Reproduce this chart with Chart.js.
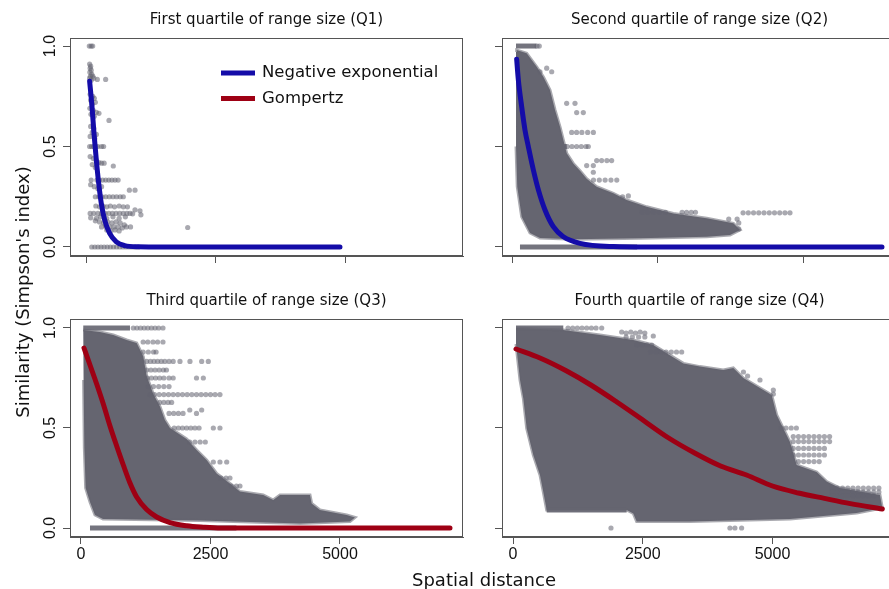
<!DOCTYPE html>
<html><head><meta charset="utf-8">
<script src="https://cdn.jsdelivr.net/npm/chart.js@4.4.0/dist/chart.umd.min.js"></script>
<style>
html,body{margin:0;padding:0;background:#fff;}
body{width:889px;height:589px;position:relative;overflow:hidden;}
canvas{position:absolute;}
.lab{position:absolute;font-family:'DejaVu Sans';font-size:18px;line-height:20px;text-align:center;white-space:nowrap;color:#111;}
</style></head><body>
<canvas id="c1" width="470" height="280" style="left:0px;top:0px"></canvas>
<canvas id="c2" width="435" height="280" style="left:470px;top:0px"></canvas>
<canvas id="c3" width="470" height="309" style="left:0px;top:280px"></canvas>
<canvas id="c4" width="435" height="309" style="left:470px;top:280px"></canvas>
<div class="lab" style="left:-127px;top:282px;width:300px;transform:rotate(-90deg)">Similarity (Simpson's index)</div>
<div class="lab" style="left:334px;top:570px;width:300px">Spatial distance</div>
<script>
// ---------------- data ----------------
const panelTitles = ['First quartile of range size (Q1)', 'Second quartile of range size (Q2)',
                     'Third quartile of range size (Q3)', 'Fourth quartile of range size (Q4)'];
const xTicks = [0, 2500, 5000];
const xTickLabels = ['0', '2500', '5000'];
const yTicks = [0, 0.5, 1];
const yTickLabels = ['0.0', '0.5', '1.0'];
const legendLabels = ['Negative exponential', 'Gompertz'];

// fitted curves
const q1CurveX = [70, 116, 154, 199, 245, 295, 361, 457, 585, 747, 1004, 1500, 3000, 4903];
const q1CurveY = [0.825, 0.698, 0.566, 0.433, 0.317, 0.217, 0.134, 0.068, 0.026, 0.007, 0.001, 0, 0, 0];
const q2CurveX = [80, 109, 166, 223, 281, 367, 453, 567, 710, 882, 1168, 1741, 2300, 6357];
const q2CurveY = [0.934, 0.831, 0.698, 0.582, 0.499, 0.383, 0.284, 0.184, 0.101, 0.051, 0.018, 0.002, 0, 0];
const q3CurveX = [58, 174, 303, 431, 560, 689, 817, 946, 1075, 1268, 1461, 1718, 2040, 2361, 2700, 7124];
const q3CurveY = [0.90, 0.815, 0.72, 0.62, 0.51, 0.41, 0.315, 0.225, 0.155, 0.092, 0.055, 0.027, 0.011, 0.004, 0, 0];
const q4CurveX = [58, 520, 1034, 1500, 2000, 2447, 3000, 3500, 4000, 4500, 5000, 5500, 6000, 6500, 7116];
const q4CurveY = [0.895, 0.85, 0.785, 0.715, 0.63, 0.55, 0.45, 0.375, 0.31, 0.265, 0.21, 0.175, 0.148, 0.122, 0.095];

// outlines of the dense point clouds
const q2Cloud = [[69,0.97],[80,0.98],[252,0.964],[424,0.897],[538,0.847],[653,0.781],[739,0.682],[825,0.598],[882,0.532],[940,0.466],[1053,0.416],[1168,0.38],[1283,0.34],[1455,0.30],[1741,0.267],[1971,0.234],[2314,0.20],[2772,0.167],[3345,0.143],[3803,0.118],[3918,0.085],[3746,0.06],[3345,0.051],[2199,0.043],[1053,0.038],[481,0.045],[309,0.07],[166,0.15],[90,0.3],[69,0.5]];
const q3Cloud = [[44,0.99],[367,0.98],[624,0.965],[882,0.94],[1075,0.925],[1203,0.857],[1268,0.76],[1396,0.67],[1525,0.607],[1620,0.54],[1718,0.5],[2040,0.445],[2233,0.39],[2426,0.34],[2619,0.273],[2876,0.223],[3069,0.182],[3519,0.165],[3712,0.14],[3842,0.165],[4421,0.165],[4453,0.123],[4614,0.09],[5129,0.065],[5290,0.053],[5193,0.032],[4228,0.023],[2297,0.037],[425,0.045],[270,0.065],[174,0.13],[90,0.2],[65,0.4],[50,0.74]];
const q4Cloud = [[58,1.0],[969,0.99],[1676,0.965],[2318,0.94],[2700,0.915],[3283,0.823],[3603,0.807],[4052,0.79],[4245,0.8],[4438,0.75],[4759,0.70],[4984,0.665],[5081,0.565],[5203,0.5],[5337,0.43],[5466,0.315],[5851,0.28],[6044,0.232],[6300,0.2],[7071,0.165],[7116,0.1],[6622,0.075],[5337,0.045],[3410,0.032],[2383,0.032],[2318,0.073],[2190,0.09],[649,0.09],[584,0.18],[520,0.265],[391,0.365],[264,0.498],[199,0.648],[135,0.74],[58,0.92]];

// dense rows of points (drawn as bands)
const q2Bands = [[[69,1],[420,1]], [[137,0],[2150,0]], [[86,0.5],[940,0.5]]];
const q3Bands = [[[44,1],[946,1]], [[174,0],[3000,0]]];
const q4Bands = [[[58,1],[969,1]], [[649,0.09],[2190,0.09]]];

// scattered individual points
const q1Points = [[64,1],[100,1],[129,1],
 [70,0.91],[90,0.9],[80,0.89],[100,0.88],[75,0.87],[110,0.86],[85,0.85],[130,0.85],[70,0.84],[150,0.84],[100,0.83],[218,0.834],[379,0.834],
 [80,0.76],[130,0.75],[160,0.74],[90,0.73],[180,0.72],[120,0.71],
 [75,0.69],[140,0.68],[200,0.67],[95,0.66],[160,0.65],[250,0.665],[444,0.63],
 [90,0.6],[150,0.59],[120,0.57],[200,0.56],[80,0.55],[170,0.54],
 [70,0.5],[110,0.5],[150,0.5],[190,0.5],[230,0.5],[300,0.5],[340,0.5],
 [80,0.45],[140,0.44],[200,0.43],[250,0.42],[300,0.417],[350,0.417],[120,0.41],[527,0.403],[180,0.395],
 [100,0.333],[210,0.333],[260,0.333],[320,0.333],[380,0.333],[440,0.333],[500,0.333],[560,0.333],[620,0.333],
 [90,0.31],[160,0.3],[230,0.29],[837,0.283],[946,0.283],[300,0.3],
 [180,0.25],[250,0.25],[310,0.25],[380,0.25],[450,0.25],[520,0.25],[590,0.25],[660,0.25],[720,0.25],
 [190,0.204],[260,0.2],[330,0.204],[400,0.2],[470,0.204],[550,0.2],[640,0.204],[720,0.2],[800,0.2],[946,0.185],[1042,0.18],[900,0.165],[1060,0.16],
 [80,0.167],[150,0.167],[230,0.167],[300,0.167],[370,0.167],[440,0.167],[510,0.167],[580,0.167],[650,0.167],[720,0.167],[790,0.167],[850,0.167],
 [90,0.145],[200,0.143],[280,0.15],[400,0.143],[520,0.15],[640,0.143],[760,0.15],
 [180,0.13],[260,0.125],[340,0.12],[420,0.125],[500,0.12],[580,0.125],[660,0.12],[740,0.11],
 [300,0.1],[380,0.105],[460,0.1],[540,0.1],[620,0.1],[700,0.095],[780,0.1],[860,0.1],[1963,0.097],
 [400,0.085],[480,0.08],[560,0.085],[640,0.08],
 [110,0],[170,0],[230,0],[290,0],[350,0],[410,0],[470,0],[530,0],[590,0],[650,0],[710,0],[770,0],[830,0],[890,0],[950,0],[1010,0]];
const q2Points = [[430,1],[469,1],
 [481,0.872],[596,0.89],[682,0.872],[939,0.715],[1082,0.715],[1111,0.669],[1225,0.669],
 [1025,0.57],[1110,0.57],[1200,0.57],[1300,0.57],[1398,0.57],
 [950,0.5],[1030,0.5],[1110,0.5],[1190,0.5],[1270,0.5],[1311,0.5],
 [1455,0.43],[1540,0.43],[1630,0.43],[1712,0.43],[1283,0.405],[1397,0.405],[1397,0.372],
 [1400,0.333],[1500,0.333],[1600,0.333],[1700,0.333],[1800,0.333],
 [1999,0.254],[1900,0.25],
 [2236,0.173],[2330,0.173],[2430,0.173],[2530,0.173],[2637,0.173],[2923,0.173],[3000,0.173],[3080,0.173],[3152,0.173],
 [3724,0.139],[3868,0.139],
 [3970,0.17],[4060,0.17],[4150,0.17],[4240,0.17],[4330,0.17],[4420,0.17],[4510,0.17],[4600,0.17],[4690,0.17],[4776,0.17],
 [3896,0.12],[3896,0.09]];
const q3Points = [[1010,1],[1080,1],[1150,1],[1220,1],[1290,1],[1360,1],[1430,1],[1500,1],[1583,1],
 [1200,0.93],[1290,0.93],[1390,0.93],[1480,0.93],[1583,0.93],
 [1200,0.88],[1300,0.88],[1400,0.88],[1450,0.88],
 [1268,0.833],[1340,0.833],[1410,0.833],[1480,0.833],[1550,0.833],[1620,0.833],[1700,0.833],[1780,0.833],[1911,0.833],[2104,0.833],[2330,0.833],[2458,0.833],
 [1270,0.79],[1350,0.79],[1430,0.79],[1510,0.79],[1590,0.79],[1650,0.79],
 [1280,0.75],[1360,0.75],[1440,0.75],[1520,0.75],[1600,0.75],[1700,0.75],[1780,0.75],[2230,0.75],[2362,0.75],
 [1300,0.707],[1400,0.707],[1500,0.707],[1600,0.707],[1700,0.707],
 [1333,0.667],[1420,0.667],[1510,0.667],[1600,0.667],[1690,0.667],[1780,0.667],[1870,0.667],[1960,0.667],[2050,0.667],[2140,0.667],[2230,0.667],[2320,0.667],[2410,0.667],[2500,0.667],[2590,0.667],[2683,0.667],
 [1520,0.628],[1600,0.628],[1680,0.628],[1750,0.628],
 [1700,0.573],[1790,0.573],[1880,0.573],[1970,0.573],[2100,0.59],[2230,0.573],[2330,0.59],
 [1800,0.5],[1880,0.5],[1960,0.5],[2040,0.5],[2120,0.5],[2200,0.5],[2280,0.5],[2555,0.5],[2683,0.5],
 [2100,0.43],[2200,0.43],[2300,0.43],[2400,0.43],
 [2555,0.33],[2683,0.33],[2813,0.33],
 [2700,0.25],[2800,0.25],[2876,0.25],
 [2900,0.21],[3000,0.21],[3069,0.21]];
const q4Points = [[1060,1],[1150,1],[1240,1],[1330,1],[1420,1],[1510,1],[1600,1],[1709,1],
 [2094,0.98],[2180,0.975],[2270,0.98],[2360,0.975],[2450,0.98],[2540,0.975],[2703,0.96],[2180,0.955],[2300,0.955],[2420,0.955],[2540,0.955],
 [2383,0.915],[2480,0.915],[2580,0.915],[2672,0.915],
 [2650,0.88],[2750,0.88],[2850,0.88],[2950,0.88],[3050,0.88],[3150,0.88],[3250,0.88],
 [4440,0.78],[4520,0.76],[4759,0.74],[5016,0.69],[5016,0.67],
 [5170,0.5],[5260,0.5],[5360,0.5],[5460,0.5],
 [5400,0.457],[5500,0.457],[5600,0.457],[5700,0.457],[5800,0.457],[5900,0.457],[6000,0.457],[6100,0.457],
 [5400,0.432],[5500,0.432],[5600,0.432],[5700,0.432],[5800,0.432],[5900,0.432],[6000,0.432],[6100,0.432],
 [5400,0.398],[5500,0.398],[5600,0.398],[5700,0.398],[5800,0.398],[5900,0.398],[6000,0.398],
 [5400,0.365],[5500,0.365],[5600,0.365],[5700,0.365],[5800,0.365],[5900,0.365],[6000,0.365],
 [5500,0.332],[5600,0.332],[5700,0.332],[5800,0.332],[5900,0.332],
 [6150,0.2],[6250,0.2],[6350,0.2],[6450,0.2],[6550,0.2],[6650,0.2],[6750,0.2],[6850,0.2],[6950,0.2],[7050,0.2],
 [6150,0.18],[6250,0.18],[6350,0.18],[6450,0.18],[6550,0.18],[6650,0.18],[6750,0.18],[6850,0.18],[6950,0.18],[7050,0.18],
 [6150,0.16],[6250,0.16],[6350,0.16],[6450,0.16],[6550,0.16],[6650,0.16],[6750,0.16],[6850,0.16],[6950,0.16],
 [1888,0],[4180,0],[4276,0],[4405,0]];

// ---------------- drawing ----------------
const BLUE = 'rgb(20,12,168)';
const RED = 'rgb(158,0,20)';
const CLOUD = 'rgb(101,101,112)';
const AXIS = '#555';
Chart.defaults.color = '#111';
Chart.defaults.font.family = "'Liberation Sans', Arial, sans-serif";

const toXY = (xs, ys) => xs.map((x, i) => ({x: x, y: ys[i]}));
const pairs = arr => arr.map(p => ({x: p[0], y: p[1]}));

const boxPlugin = {
  id: 'box',
  afterDraw(chart) {
    const a = chart.chartArea, ctx = chart.ctx;
    ctx.save();
    ctx.strokeStyle = AXIS; ctx.lineWidth = 1;
    ctx.strokeRect(a.left + 0.5, a.top + 0.5, a.right - a.left - 1, a.bottom - a.top - 1);
    ctx.restore();
  }
};
const legendPlugin = {
  id: 'q1legend',
  afterDraw(chart) {
    if (!chart.options.plugins.q1legend || !chart.options.plugins.q1legend.show) return;
    const a = chart.chartArea, ctx = chart.ctx;
    const cols = [BLUE, RED];
    ctx.save();
    ctx.font = "16.5px 'DejaVu Sans'";
    ctx.textBaseline = 'middle';
    ctx.fillStyle = '#111';
    legendLabels.forEach((t, i) => {
      const y = a.top + 35 + i * 25.5;
      ctx.strokeStyle = cols[i]; ctx.lineWidth = 5; ctx.lineCap = 'butt';
      ctx.beginPath(); ctx.moveTo(a.left + 151, y); ctx.lineTo(a.left + 185, y); ctx.stroke();
      ctx.fillText(t, a.left + 192, y);
    });
    ctx.restore();
  }
};

function panel(id, p) {
  const datasets = [];
  datasets.push({type: 'line', data: toXY(p.curveX, p.curveY), borderColor: p.color, borderWidth: 5,
    pointRadius: 0, cubicInterpolationMode: 'monotone', fill: false, borderCapStyle: 'round', order: 0});
  datasets.push({type: 'scatter', data: pairs(p.points), pointRadius: 2.6, pointBorderWidth: 0,
    backgroundColor: 'rgba(98,98,112,0.55)', borderColor: 'rgba(0,0,0,0)', order: 1});
  (p.bands || []).forEach(b => datasets.push({type: 'line', data: pairs(b), borderColor: 'rgba(101,101,112,0.9)',
    borderWidth: 5, pointRadius: 0, fill: false, order: 2}));
  if (p.cloud) datasets.push({type: 'line', data: pairs(p.cloud), borderColor: 'rgba(101,101,112,0.55)',
    borderWidth: 3, backgroundColor: CLOUD, fill: 'shape', pointRadius: 0, tension: 0, order: 3});

  new Chart(document.getElementById(id), {
    type: 'scatter',
    data: {datasets},
    options: {
      responsive: false, animation: false, events: [],
      layout: {padding: {left: 0, right: p.padRight, top: 0, bottom: 0}},
      plugins: {
        legend: {display: false}, tooltip: {enabled: false},
        title: {display: true, text: p.title, fullSize: false, color: '#111',
          font: {family: "'DejaVu Sans'", size: 15, weight: 'normal', lineHeight: 1},
          padding: {top: p.titleTop, bottom: p.titleBottom}},
        q1legend: {show: !!p.legend}
      },
      scales: {
        x: {type: 'linear', min: p.xMin, max: p.xMax,
          afterBuildTicks: s => { s.ticks = xTicks.map(v => ({value: v})); },
          afterFit: s => { s.height = p.xAxisH; },
          ticks: {display: p.xLabels, callback: (v, i) => xTickLabels[i], font: {size: 16}, color: '#111', padding: 1, maxRotation: 0},
          grid: {drawOnChartArea: false, drawTicks: true, tickLength: 7, color: AXIS},
          border: {display: true, color: AXIS}},
        y: {type: 'linear', min: p.yMin, max: p.yMax,
          afterBuildTicks: s => { s.ticks = yTicks.map(v => ({value: v})); },
          afterFit: s => { s.width = p.yAxisW; },
          ticks: {display: p.yLabels, callback: (v, i) => yTickLabels[i], font: {size: 16}, color: '#111',
            minRotation: 90, maxRotation: 90, crossAlign: 'center', padding: 1},
          grid: {drawOnChartArea: false, drawTicks: true, tickLength: 7, color: AXIS},
          border: {display: true, color: AXIS}}
      }
    },
    plugins: [boxPlugin, legendPlugin]
  });
}

panel('c1', {title: panelTitles[0], curveX: q1CurveX, curveY: q1CurveY, color: BLUE, points: q1Points, legend: true,
  xMin: -309, xMax: 7278, yMin: -0.0448, yMax: 1.04, padRight: 7, yAxisW: 70, xAxisH: 24,
  titleTop: 13, titleBottom: 10, xLabels: false, yLabels: true});
panel('c2', {title: panelTitles[1], curveX: q2CurveX, curveY: q2CurveY, color: BLUE, points: q2Points, cloud: q2Cloud, bands: q2Bands,
  xMin: -172, xMax: 6615, yMin: -0.0448, yMax: 1.04, padRight: 8, yAxisW: 32, xAxisH: 24,
  titleTop: 13, titleBottom: 10, xLabels: false, yLabels: false});
panel('c3', {title: panelTitles[2], curveX: q3CurveX, curveY: q3CurveY, color: RED, points: q3Points, cloud: q3Cloud, bands: q3Bands,
  xMin: -212, xMax: 7375, yMin: -0.045, yMax: 1.045, padRight: 7, yAxisW: 70, xAxisH: 52,
  titleTop: 14, titleBottom: 10, xLabels: true, yLabels: true});
panel('c4', {title: panelTitles[3], curveX: q4CurveX, curveY: q4CurveY, color: RED, points: q4Points, cloud: q4Cloud, bands: q4Bands,
  xMin: -212, xMax: 7399, yMin: -0.045, yMax: 1.045, padRight: 8, yAxisW: 32, xAxisH: 52,
  titleTop: 14, titleBottom: 10, xLabels: true, yLabels: false});
</script>
</body></html>
